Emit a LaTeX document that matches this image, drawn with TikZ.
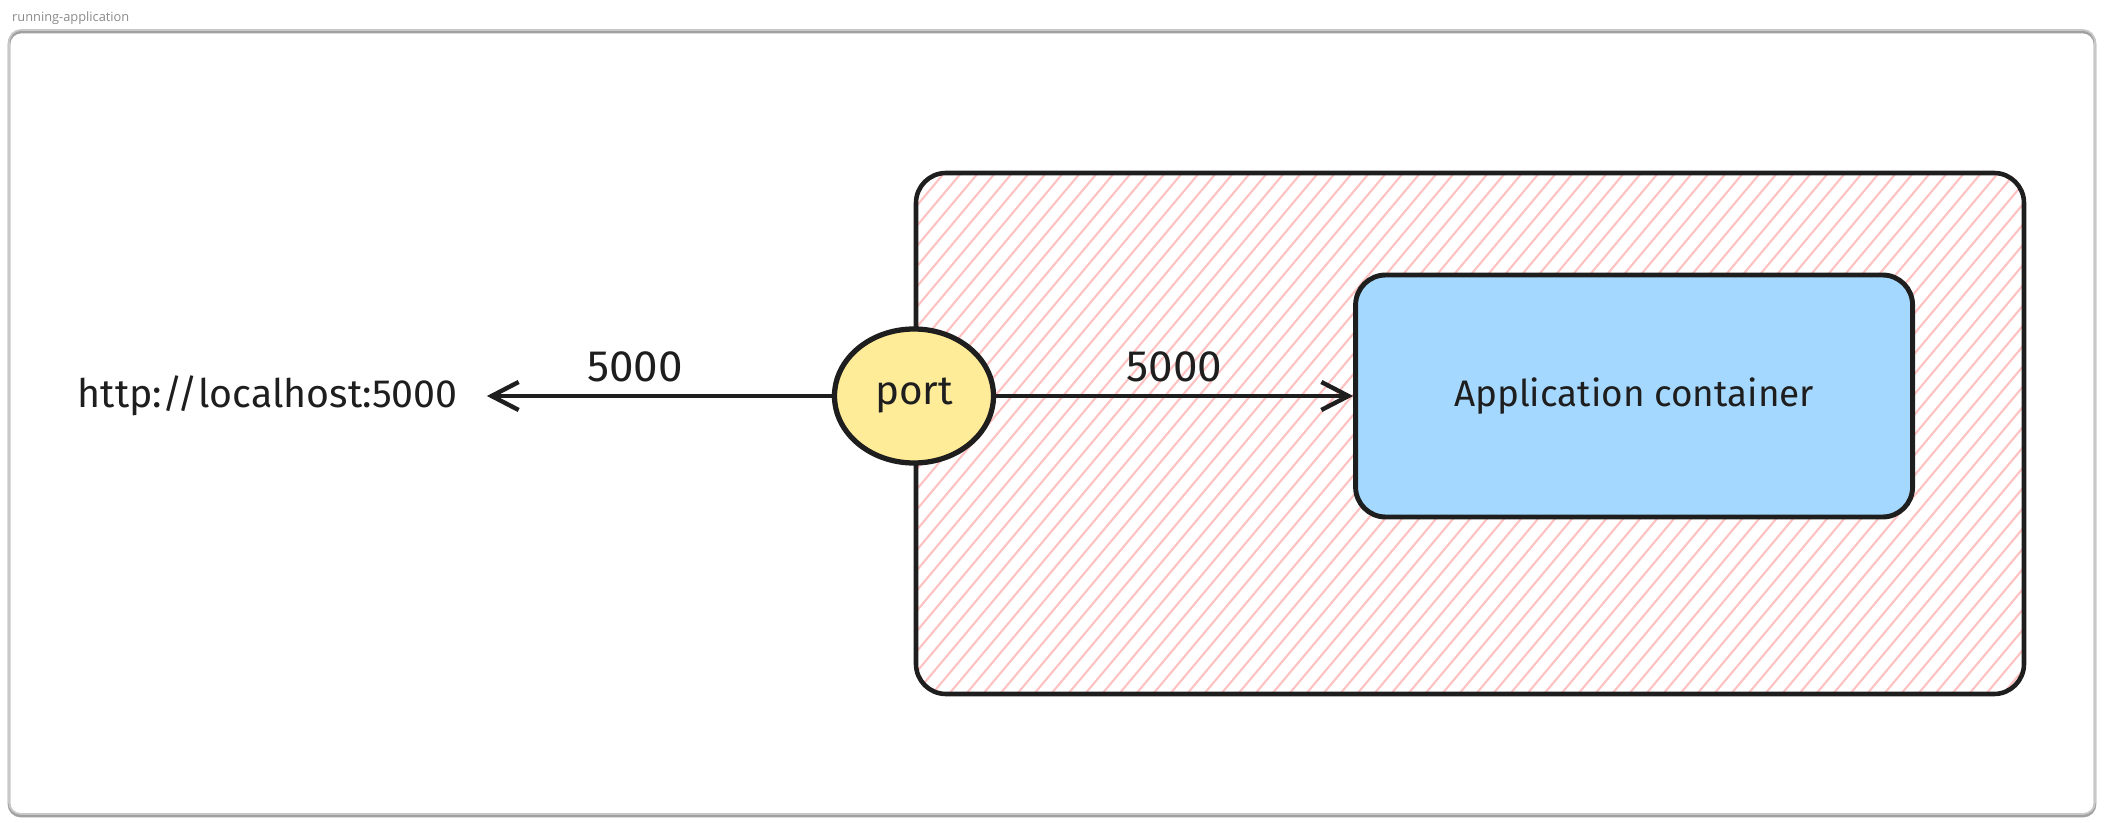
\documentclass[tikz,border=0pt]{standalone}
\usepackage{fontspec}
\setmainfont{Fira Sans}
\newfontfamily\titlefont{Open Sans}
\usetikzlibrary{positioning, arrows.meta, shapes.geometric}
\definecolor{ink}{HTML}{1E1E1E}
\definecolor{hatchred}{HTML}{FFC2C2}
\definecolor{portyellow}{HTML}{FFEC99}
\definecolor{appblue}{HTML}{A5D8FF}
\definecolor{framegray}{HTML}{C8C8C8}
\definecolor{titlegray}{HTML}{8A8A8A}

\begin{document}
\begin{tikzpicture}[->,>={Straight Barb[length=0.27cm,width=0.28cm]},line width=1.25pt,auto,ink,
    every node/.style={font=\fontsize{10.5}{12}\selectfont},
    hostbox/.style={draw=ink,rounded corners=0.3cm,line width=1.3pt,minimum width=11.08cm,minimum height=5.21cm,
        path picture={\foreach \k in {0,...,96}
            \draw[-,hatchred,line width=0.6pt]
              ([xshift=\k*0.17cm-4.6cm]path picture bounding box.south west) -- ++(50:7.5cm);}},
    appbox/.style={draw=ink,fill=appblue,rounded corners=0.3cm,line width=1.4pt,
        minimum width=5.57cm,minimum height=2.42cm},
    portnode/.style={ellipse,draw=ink,fill=portyellow,line width=1.5pt,
        minimum width=1.59cm,minimum height=1.34cm,font=\fontsize{11.5}{13}\selectfont}]
                    \useasboundingbox (0,0) rectangle (21.06,-8.23);
                    \draw[-,framegray!80!black,line width=0.8pt,rounded corners=0.12cm] (0.09,-0.32) rectangle (20.95,-8.16);
                    \draw[-,framegray,line width=0.5pt,rounded corners=0.12cm] (0.09,-0.30) rectangle (20.95,-8.14);
                    \node[anchor=west,inner sep=0pt,titlegray,font=\titlefont\fontsize{3.65}{5}\selectfont] (title) at (0.10,-0.18) {running-application};

                    \node[hostbox] (host) at (14.70,-4.335) {};
                    \node[portnode] (port) at (9.14,-3.96) {port};
                    \node[appbox] (app) [right=3.57cm of port] {Application container};
                    \node[inner xsep=0.27cm,font=\fontsize{11.2}{13}\selectfont] (url) [left=3.45cm of port] {http://localhost:5000};

                    \path[every node/.style={font=\fontsize{12.5}{14}\selectfont}]
                    (port) edge node[swap,pos=0.57] {5000} (url)
                           edge node {5000} (app)
                    ;
                \end{tikzpicture}
\end{document}
